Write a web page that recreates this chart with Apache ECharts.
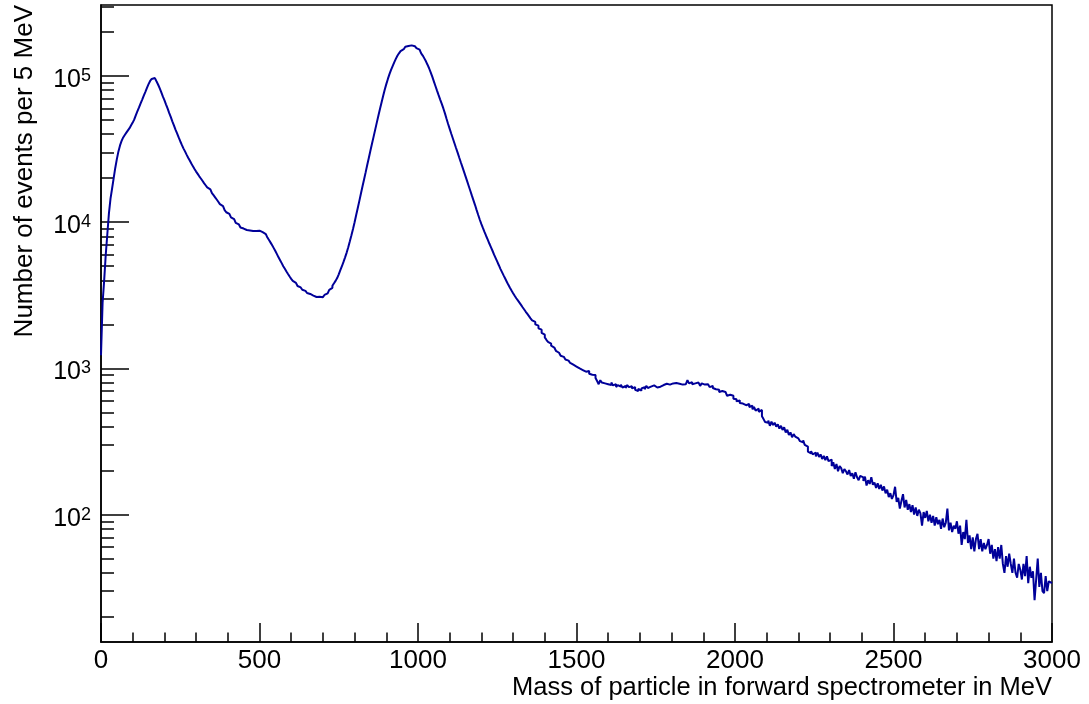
<!DOCTYPE html>
<html>
<head>
<meta charset="utf-8">
<script src="https://cdn.jsdelivr.net/npm/echarts@6/dist/echarts.min.js"></script>
<style>html,body{margin:0;padding:0;background:#fff}#c{width:1089px;height:704px}</style>
</head>
<body>
<div id="c"></div>
<script>
// ---- data (events per 5 MeV bin) ----
const BIN_WIDTH = 5;
const X_MIN = 0, X_MAX = 3000;
const Y_MIN = 13.45, Y_MAX = 306000;

// bins 0 - 495 MeV
const counts0 = [
 1230, 2800, 4000, 6000, 8300, 11500, 14500, 17000, 20000, 23500, 27000, 30500, 33500, 36000, 38000, 39500, 41000, 42500, 44000, 46000,
 48000, 50500, 54000, 57500, 61000, 65000, 69000, 73500, 78000, 83000, 88000, 92500, 95500, 96800, 95500, 92000, 87500, 82500, 77500, 72500,
 68500, 64000, 60000, 56000, 52500, 49000, 46000, 43000, 40500, 38000, 35800, 33800, 32000, 30500, 29000, 27600, 26400, 25200, 24100, 23100,
 22200, 21400, 20600, 19900, 19200, 18500, 17900, 17300, 16800, 16300, 15800, 15300, 14800, 14300, 13800, 13300, 12900, 12500, 12100, 11700,
 11400, 11100, 10800, 10500, 10200, 9900, 9650, 9400, 9200, 9050, 8950, 8850, 8800, 8780, 8750, 8700, 8650, 8700, 8800, 8750
];
// bins 500 - 995 MeV
const counts1 = [
 8650, 8550, 8450, 8300, 8100, 7850, 7550, 7250, 6950, 6650, 6350, 6050, 5750, 5500, 5250, 5000, 4800, 4600, 4420, 4250,
 4100, 3970, 3850, 3750, 3660, 3580, 3510, 3450, 3390, 3330, 3280, 3230, 3190, 3150, 3110, 3080, 3050, 3090, 3040, 3070,
 3100, 3180, 3260, 3330, 3450, 3560, 3680, 3820, 3970, 4150, 4400, 4700, 5000, 5350, 5750, 6200, 6750, 7400, 8150, 9000,
 10000, 11200, 12500, 14000, 15700, 17600, 19700, 22000, 24700, 27600, 30900, 34500, 38500, 43000, 48000, 53500, 59500, 66000, 73000, 80500,
 88000, 95500, 103000, 110000, 117000, 124000, 131000, 137500, 143000, 148000, 152500, 156000, 158500, 160500, 161500, 162000, 161500, 160000, 158000, 155000
];
// bins 1000 - 1495 MeV
const counts2 = [
 151500, 147500, 143000, 138000, 132000, 126000, 119500, 113000, 106000, 99000, 92000, 85500, 79500, 74000, 69000, 64500, 60000, 55500, 51000, 47000,
 43500, 40300, 37400, 34700, 32200, 29900, 27700, 25700, 23900, 22200, 20600, 19100, 17700, 16400, 15200, 14100, 13100, 12100, 11200, 10400,
 9700, 9100, 8550, 8050, 7600, 7150, 6750, 6380, 6000, 5680, 5370, 5080, 4800, 4560, 4330, 4120, 3920, 3730, 3560, 3410,
 3270, 3140, 3020, 2920, 2820, 2720, 2620, 2530, 2440, 2360, 2280, 2200, 2130, 2080, 2000, 1960, 1880, 1840, 1750, 1700,
 1630, 1570, 1520, 1480, 1430, 1390, 1350, 1320, 1280, 1250, 1220, 1200, 1170, 1150, 1130, 1110, 1090, 1060, 1080, 1030
];
// bins 1500 - 1995 MeV
const counts3 = [
 1010, 1000, 985, 975, 960, 950, 940, 960, 920, 905, 890, 900, 860, 820, 780, 830, 800, 790, 805, 780,
 790, 770, 800, 765, 780, 745, 770, 750, 775, 740, 760, 735, 770, 745, 755, 730, 745, 715, 700, 725,
 705, 730, 745, 720, 760, 735, 750, 730, 765, 745, 740, 760, 750, 745, 770, 760, 785, 765, 775, 760,
 790, 770, 795, 780, 785, 800, 775, 790, 780, 800, 830, 790, 805, 780, 790, 770, 800, 785, 760, 790,
 775, 760, 780, 765, 745, 760, 735, 720, 705, 715, 690, 700, 685, 690, 670, 650, 660, 640, 650, 620
];
// bins 2000 - 2495 MeV
const counts4 = [
 615, 595, 605, 580, 575, 590, 560, 550, 572, 545, 555, 525, 545, 515, 530, 505, 520, 470, 450, 430,
 425, 440, 405, 432, 410, 425, 400, 415, 388, 405, 380, 395, 365, 380, 350, 365, 338, 355, 342, 332,
 330, 318, 312, 322, 300, 292, 270, 262, 272, 258, 265, 250, 266, 248, 258, 240, 252, 236, 250, 232,
 238, 215, 228, 205, 222, 198, 215, 208, 192, 205, 198, 188, 202, 184, 192, 176, 195, 180, 172, 184,
 180, 170, 182, 158, 172, 162, 180, 160, 166, 152, 164, 150, 160, 146, 156, 140, 148, 132, 140, 128
];
// bins 2500 - 2995 MeV
const counts5 = [
 136, 155, 122, 130, 110, 124, 138, 112, 126, 108, 118, 104, 116, 100, 112, 98, 108, 102, 84, 104,
 95, 106, 90, 100, 88, 98, 84, 96, 86, 92, 80, 94, 82, 88, 110, 78, 88, 76, 84, 80,
 90, 74, 84, 62, 76, 68, 92, 64, 72, 58, 70, 56, 68, 74, 58, 68, 56, 64, 58, 62,
 68, 54, 62, 50, 58, 48, 60, 50, 62, 46, 40, 52, 44, 54, 46, 40, 50, 40, 37, 46,
 42, 36, 46, 38, 52, 34, 44, 37, 41, 26, 36, 50, 32, 40, 30, 29, 38, 30, 35, 34
];

const yMajorTicks = [100, 1000, 10000, 100000];
const yMinorTicks = [20, 30, 40, 50, 60, 70, 80, 90,
                     200, 300, 400, 500, 600, 700, 800, 900,
                     2000, 3000, 4000, 5000, 6000, 7000, 8000, 9000,
                     20000, 30000, 40000, 50000, 60000, 70000, 80000, 90000,
                     200000, 300000];
const xTitle = 'Mass of particle in forward spectrometer in MeV';
const yTitle = 'Number of events per 5 MeV';

// ---- build ----
const counts = counts0.concat(counts1, counts2, counts3, counts4, counts5);
const histData = counts.map((v, i) => [X_MIN + i * BIN_WIDTH, v]);
histData.push([X_MIN + counts.length * BIN_WIDTH, counts[counts.length - 1]]);

const FONT = 'Liberation Sans, Arial, Helvetica, sans-serif';
const GRID = {left: 101, right: 37, top: 5, bottom: 62};
const gridWidth = 1089 - GRID.left - GRID.right;

const chart = echarts.init(document.getElementById('c'), null, {renderer: 'canvas'});
chart.setOption({
  animation: false,
  backgroundColor: '#fff',
  grid: Object.assign({show: true, borderColor: '#000', borderWidth: 1.5, backgroundColor: 'transparent',
                       containLabel: false, outerBoundsMode: 'none'}, GRID),
  xAxis: {
    type: 'value', min: X_MIN, max: X_MAX, interval: 500,
    name: xTitle, nameLocation: 'end', nameGap: 0, nameMoveOverlap: false,
    nameTextStyle: {fontFamily: FONT, fontSize: 25.5, color: '#000', align: 'right', verticalAlign: 'top', lineHeight: 26, padding: [33, 0, 0, 0]},
    axisLine: {show: true, lineStyle: {color: '#000', width: 1.5}},
    axisTick: {show: true, inside: true, length: 19, lineStyle: {color: '#000', width: 1.5}},
    minorTick: {show: true, splitNumber: 5, length: 9.5, lineStyle: {color: '#000', width: 1.5}},
    axisLabel: {margin: 6, fontFamily: FONT, fontSize: 26, color: '#000', showMinLabel: true, showMaxLabel: true,
                hideOverlap: false, formatter: v => String(v)},
    splitLine: {show: false}, minorSplitLine: {show: false}
  },
  yAxis: [{
    type: 'log', logBase: 10, min: Y_MIN, max: Y_MAX, position: 'left',
    name: yTitle, nameLocation: 'end', nameGap: 0, nameRotate: 90, nameMoveOverlap: false,
    nameTextStyle: {fontFamily: FONT, fontSize: 26, color: '#000', align: 'right', verticalAlign: 'bottom', lineHeight: 26, padding: [0, 0, 63, 0]},
    axisLine: {show: true, lineStyle: {color: '#000', width: 1.5}},
    axisTick: {show: true, inside: true, length: 28, customValues: yMajorTicks, lineStyle: {color: '#000', width: 1.5}},
    axisLabel: {
      customValues: yMajorTicks, margin: 10, padding: [8, 0, 0, 0], hideOverlap: false,
      formatter: v => '{b|10}{s|' + Math.round(Math.log10(v)) + '}',
      rich: {
        b: {fontFamily: FONT, fontSize: 25, color: '#000', lineHeight: 26},
        s: {fontFamily: FONT, fontSize: 18, color: '#000', verticalAlign: 'top', lineHeight: 18}
      }
    },
    splitLine: {show: false}, minorTick: {show: false}, minorSplitLine: {show: false}
  }, {
    type: 'log', logBase: 10, min: Y_MIN, max: Y_MAX, position: 'right', offset: -gridWidth,
    axisLine: {show: false},
    axisTick: {show: true, inside: false, length: 13, customValues: yMinorTicks, lineStyle: {color: '#000', width: 1.5}},
    axisLabel: {show: false},
    splitLine: {show: false}, minorTick: {show: false}
  }],
  series: [{
    type: 'line', step: 'end', data: histData, yAxisIndex: 0,
    showSymbol: false, symbol: 'none', sampling: null,
    lineStyle: {color: '#000099', width: 2},
    emphasis: {disabled: true}
  }]
});
</script>
</body>
</html>
